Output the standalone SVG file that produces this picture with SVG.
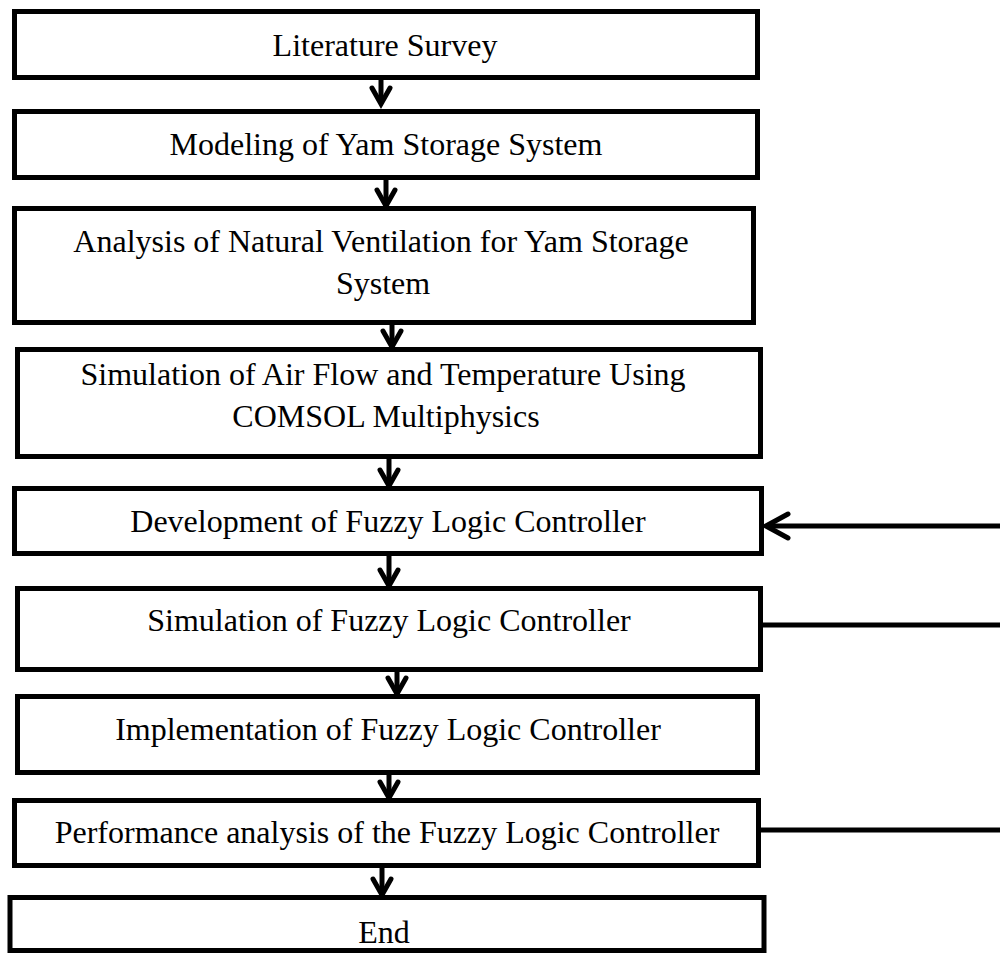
<svg xmlns="http://www.w3.org/2000/svg" width="1000" height="958" viewBox="0 0 1000 958">
<style>
.box{fill:#fff;stroke:#000;stroke-width:5}
.t{font-family:"Liberation Serif","Times New Roman",serif;font-size:32px;fill:#000;text-anchor:middle}
.ln{fill:none;stroke:#000;stroke-width:5}
.hd{fill:none;stroke:#000;stroke-width:5;stroke-linecap:round;stroke-linejoin:miter}
</style>
<rect width="1000" height="958" fill="#fff"/>
<g id="n1"><rect class="box" x="14.5" y="11.5" width="743" height="66"/><text class="t" x="385" y="56">Literature Survey</text></g>
<g id="n2"><rect class="box" x="14.5" y="111.5" width="743" height="66"/><text class="t" x="386" y="155">Modeling of Yam Storage System</text></g>
<g id="n3"><rect class="box" x="14.5" y="208.5" width="739" height="114"/><text class="t" x="381" y="252">Analysis of Natural Ventilation for Yam Storage</text><text class="t" x="383" y="294">System</text></g>
<g id="n4"><rect class="box" x="17.5" y="349.5" width="743" height="107"/><text class="t" x="383" y="385">Simulation of Air Flow and Temperature Using</text><text class="t" x="386" y="427">COMSOL Multiphysics</text></g>
<g id="n5"><rect class="box" x="14.5" y="488.5" width="747" height="65"/><text class="t" x="388" y="532">Development of Fuzzy Logic Controller</text></g>
<g id="n6"><rect class="box" x="17.5" y="588.5" width="743" height="81"/><text class="t" x="389" y="631">Simulation of Fuzzy Logic Controller</text></g>
<g id="n7"><rect class="box" x="17.5" y="696.5" width="740" height="76"/><text class="t" x="388" y="740">Implementation of Fuzzy Logic Controller</text></g>
<g id="n8"><rect class="box" x="14.5" y="800.5" width="744" height="65"/><text class="t" x="387" y="843">Performance analysis of the Fuzzy Logic Controller</text></g>
<g id="n9"><rect class="box" x="10" y="897.5" width="754" height="53"/><text class="t" x="384" y="943">End</text></g>
<g id="connectors">
<path class="ln" d="M381 80V104"/><path class="hd" d="M372 88L381 104L390 88"/>
<path class="ln" d="M386 180V207"/><path class="hd" d="M377 190L386 206L395 190"/>
<path class="ln" d="M392 325V347"/><path class="hd" d="M383 331L392 347L401 331"/>
<path class="ln" d="M389 459V486"/><path class="hd" d="M380 470L389 486L398 470"/>
<path class="ln" d="M389 556V586"/><path class="hd" d="M380 570L389 586L398 570"/>
<path class="ln" d="M397 672V694"/><path class="hd" d="M388 678L397 694L406 678"/>
<path class="ln" d="M389 775V798"/><path class="hd" d="M380 782L389 798L398 782"/>
<path class="ln" d="M382 868V895"/><path class="hd" d="M373 879L382 895L391 879"/>
<path class="ln" d="M766 526H1000"/><path class="hd" d="M788 514L766 526L788 538"/>
<path class="ln" d="M763 625H1000"/>
<path class="ln" d="M761 830H1000"/>
</g>
</svg>
